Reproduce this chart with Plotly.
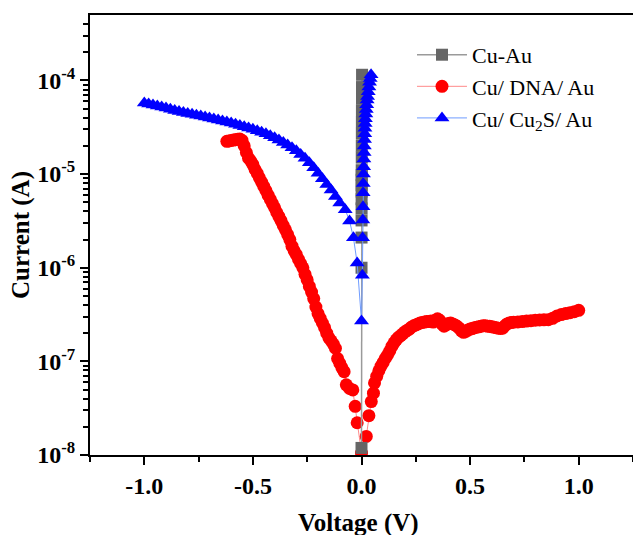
import plotly.graph_objects as go

# ---------------- data ----------------
cu_au_v = [0.0000, 0.0001, 0.0002, 0.0003, 0.0004, 0.0005, 0.0006, 0.0007, 0.0008, 0.0009,
           0.0010, 0.0012, 0.0014, 0.0016, 0.0018, 0.0020, 0.0022, 0.0024, 0.0026]
cu_au_i = [1.19e-8, 1.0e-6, 2.1e-6, 3.2e-6, 4.3e-6, 5.4e-6, 6.5e-6, 7.6e-6, 8.7e-6, 9.8e-6,
           1.1e-5, 1.5e-5, 2.0e-5, 2.7e-5, 3.6e-5, 4.8e-5, 6.4e-5, 8.5e-5, 1.15e-4]

dna_v = [-0.62, -0.61, -0.60, -0.59, -0.58, -0.57, -0.56, -0.55, -0.54, -0.53,
         -0.52, -0.51, -0.50, -0.49, -0.48, -0.47, -0.46, -0.45, -0.44, -0.43,
         -0.42, -0.41, -0.40, -0.39, -0.38, -0.37, -0.36, -0.35, -0.34, -0.33,
         -0.32, -0.31, -0.30, -0.29, -0.28, -0.27, -0.26, -0.25, -0.24, -0.23,
         -0.22, -0.21, -0.20, -0.19, -0.18, -0.17, -0.16, -0.15, -0.14, -0.13,
         -0.12, -0.11, -0.10, -0.09, -0.08, -0.07, -0.055, -0.04, -0.029, -0.02,
         0.0, 0.022, 0.034, 0.045, 0.055, 0.06, 0.07,
         0.08, 0.09, 0.10, 0.11, 0.12, 0.13, 0.14, 0.15, 0.16, 0.17,
         0.18, 0.19, 0.20, 0.21, 0.22, 0.23, 0.24, 0.25, 0.26, 0.27,
         0.28, 0.29, 0.30, 0.31, 0.32, 0.33, 0.34, 0.35, 0.36, 0.37,
         0.38, 0.39, 0.40, 0.41, 0.42, 0.43, 0.44, 0.45, 0.46, 0.47,
         0.48, 0.49, 0.50, 0.51, 0.52, 0.53, 0.54, 0.55, 0.56, 0.57,
         0.58, 0.59, 0.60, 0.61, 0.62, 0.63, 0.64, 0.65, 0.66, 0.67,
         0.68, 0.69, 0.70, 0.72, 0.74, 0.76, 0.78, 0.80, 0.82, 0.84,
         0.86, 0.88, 0.90, 0.92, 0.94, 0.96, 0.98, 1.00]
dna_i = [2.24e-5, 2.26e-5, 2.29e-5, 2.31e-5, 2.33e-5, 2.36e-5, 2.37e-5, 2.29e-5, 2.00e-5, 1.70e-5,
         1.48e-5, 1.38e-5, 1.26e-5, 1.12e-5, 1.02e-5, 9.12e-6, 8.22e-6, 7.41e-6, 6.68e-6, 5.96e-6,
         5.37e-6, 4.84e-6, 4.37e-6, 3.89e-6, 3.51e-6, 3.16e-6, 2.82e-6, 2.54e-6, 2.26e-6, 2.00e-6,
         1.70e-6, 1.51e-6, 1.38e-6, 1.23e-6, 1.11e-6, 1.00e-6, 8.51e-7, 7.41e-7, 6.31e-7, 5.50e-7,
         4.68e-7, 3.80e-7, 3.24e-7, 2.88e-7, 2.57e-7, 2.29e-7, 2.00e-7, 1.78e-7, 1.66e-7, 1.53e-7,
         1.38e-7, 1.07e-7, 9.55e-8, 8.51e-8, 7.76e-8, 5.62e-8, 5.13e-8, 4.95e-8, 3.31e-8, 2.21e-8,
         1.05e-8, 1.58e-8, 2.63e-8, 3.72e-8, 4.57e-8, 5.89e-8, 6.92e-8,
         7.94e-8, 8.91e-8, 9.77e-8, 1.08e-7, 1.17e-7, 1.29e-7, 1.45e-7, 1.58e-7, 1.70e-7, 1.80e-7,
         1.88e-7, 1.97e-7, 2.07e-7, 2.14e-7, 2.21e-7, 2.32e-7, 2.40e-7, 2.45e-7, 2.51e-7, 2.57e-7,
         2.60e-7, 2.63e-7, 2.66e-7, 2.66e-7, 2.69e-7, 2.63e-7, 2.75e-7, 2.85e-7, 2.75e-7, 2.51e-7,
         2.37e-7, 2.45e-7, 2.54e-7, 2.57e-7, 2.51e-7, 2.45e-7, 2.37e-7, 2.26e-7, 2.11e-7, 2.04e-7,
         2.09e-7, 2.16e-7, 2.21e-7, 2.24e-7, 2.29e-7, 2.32e-7, 2.34e-7, 2.37e-7, 2.40e-7, 2.40e-7,
         2.37e-7, 2.37e-7, 2.34e-7, 2.32e-7, 2.29e-7, 2.26e-7, 2.25e-7, 2.26e-7, 2.40e-7, 2.51e-7,
         2.57e-7, 2.60e-7, 2.62e-7, 2.64e-7, 2.66e-7, 2.69e-7, 2.72e-7, 2.75e-7, 2.77e-7, 2.78e-7,
         2.79e-7, 2.88e-7, 3.05e-7, 3.16e-7, 3.24e-7, 3.31e-7, 3.39e-7, 3.51e-7]

cu2s_v = [-1.00, -0.98, -0.96, -0.94, -0.92, -0.90, -0.88, -0.86, -0.84, -0.82,
          -0.80, -0.78, -0.76, -0.74, -0.72, -0.70, -0.68, -0.66, -0.64, -0.62,
          -0.60, -0.58, -0.56, -0.54, -0.52, -0.50, -0.48, -0.46, -0.44, -0.42,
          -0.40, -0.38, -0.36, -0.34, -0.32, -0.30, -0.28, -0.26, -0.24, -0.22,
          -0.20, -0.18, -0.16, -0.14, -0.12, -0.10, -0.075, -0.055, -0.037, -0.02,
          0.0, 0.004, 0.005, 0.006, 0.007, 0.0075, 0.008, 0.009, 0.010, 0.011,
          0.012, 0.013, 0.014, 0.015, 0.016, 0.017, 0.018, 0.020, 0.022, 0.024,
          0.026, 0.028, 0.031, 0.034, 0.037, 0.040, 0.044]
cu2s_i = [5.75e-5, 5.62e-5, 5.48e-5, 5.35e-5, 5.21e-5, 5.07e-5, 4.93e-5, 4.79e-5, 4.65e-5, 4.54e-5,
          4.44e-5, 4.35e-5, 4.26e-5, 4.16e-5, 4.06e-5, 3.97e-5, 3.88e-5, 3.79e-5, 3.70e-5, 3.61e-5,
          3.51e-5, 3.41e-5, 3.31e-5, 3.21e-5, 3.11e-5, 3.01e-5, 2.90e-5, 2.80e-5, 2.69e-5, 2.57e-5,
          2.44e-5, 2.31e-5, 2.18e-5, 2.04e-5, 1.91e-5, 1.78e-5, 1.62e-5, 1.48e-5, 1.32e-5, 1.17e-5,
          1.02e-5, 8.91e-6, 7.76e-6, 6.76e-6, 5.75e-6, 4.90e-6, 4.17e-6, 3.16e-6, 2.09e-6, 1.12e-6,
          2.69e-7, 8.32e-7, 2.09e-6, 3.24e-6, 4.47e-6, 6.31e-6, 7.94e-6, 1.00e-5, 1.20e-5, 1.45e-5,
          1.70e-5, 2.00e-5, 2.34e-5, 2.69e-5, 3.09e-5, 3.47e-5, 3.89e-5, 4.37e-5, 4.90e-5, 5.50e-5,
          6.17e-5, 6.76e-5, 7.59e-5, 8.51e-5, 9.55e-5, 1.05e-4, 1.15e-4]

series_names = ["Cu-Au", "Cu/ DNA/ Au", "Cu/ Cu<sub>2</sub>S/ Au"]
x_title = "Voltage (V)"
y_title = "Current (A)"

x_tick_vals = [-1.0, -0.5, 0.0, 0.5, 1.0]
x_tick_text = ["-1.0", "-0.5", "0.0", "0.5", "1.0"]
x_minor_vals = [-1.25, -0.75, -0.25, 0.25, 0.75, 1.25]
y_tick_vals = [1e-8, 1e-7, 1e-6, 1e-5, 1e-4]
y_tick_text = ["10<sup>-8</sup>", "10<sup>-7</sup>", "10<sup>-6</sup>", "10<sup>-5</sup>", "10<sup>-4</sup>"]
y_minor_vals = [m * 10.0 ** e for e in range(-8, -3) for m in range(2, 10) if m * 10.0 ** e < 5e-4]

FONT = "Liberation Serif"

fig = go.Figure()
fig.add_trace(go.Scatter(
    x=dna_v, y=dna_i, mode="lines+markers", name=series_names[1], legendrank=2,
    line=dict(color="#ff8a8a", width=1),
    marker=dict(symbol="circle", size=13, color="#ff0000", line=dict(width=0)),
))
fig.add_trace(go.Scatter(
    x=cu_au_v, y=cu_au_i, mode="lines+markers", name=series_names[0], legendrank=1,
    line=dict(color="#9a9a9a", width=1.5),
    marker=dict(symbol="square", size=12, color="#666666", line=dict(width=0)),
))
fig.add_trace(go.Scatter(
    x=cu2s_v, y=cu2s_i, mode="lines+markers", name=series_names[2], legendrank=3,
    line=dict(color="#6f9cff", width=1),
    marker=dict(symbol="triangle-up", size=13, color="#0000ff", line=dict(width=0)),
))

fig.update_layout(
    width=633, height=535,
    margin=dict(l=90, r=0, t=15, b=80, autoexpand=False),
    paper_bgcolor="white", plot_bgcolor="white",
    font=dict(family=FONT, color="black"),
    legend=dict(
        x=0.593, y=0.957, xanchor="left", yanchor="top",
        font=dict(family=FONT, size=22, color="black"),
        bgcolor="rgba(0,0,0,0)", tracegroupgap=0, itemwidth=50,
    ),
    annotations=[dict(
        text=x_title, xref="paper", yref="paper", x=0.495, y=-0.119,
        xanchor="center", yanchor="top", showarrow=False,
        font=dict(family=FONT, size=25, weight="bold", color="black"),
    )],
)

fig.update_xaxes(
    range=[-1.25, 1.25], automargin=False,
    tickmode="array", tickvals=x_tick_vals, ticktext=x_tick_text,
    ticks="outside", ticklen=8, tickwidth=2, tickcolor="black",
    tickfont=dict(family=FONT, size=24, weight="bold", color="black"),
    minor=dict(tickmode="array", tickvals=x_minor_vals, ticks="outside", ticklen=5, tickwidth=2,
               tickcolor="black", showgrid=False),
    showline=True, linewidth=2, linecolor="black", mirror=True,
    showgrid=False, zeroline=False,
)
fig.update_yaxes(
    type="log", range=[-8, -3.301], automargin=False,
    tickmode="array", tickvals=y_tick_vals, ticktext=y_tick_text,
    ticks="outside", ticklen=8, tickwidth=2, tickcolor="black",
    tickfont=dict(family=FONT, size=24, weight="bold", color="black"),
    minor=dict(tickmode="array", tickvals=y_minor_vals, ticks="outside", ticklen=5, tickwidth=1.5,
               tickcolor="black", showgrid=False),
    showline=True, linewidth=2, linecolor="black", mirror=False,
    showgrid=False, zeroline=False,
    title=dict(text=y_title, font=dict(family=FONT, size=25, weight="bold", color="black"),
               standoff=0),
)

fig.write_html("out.html")
